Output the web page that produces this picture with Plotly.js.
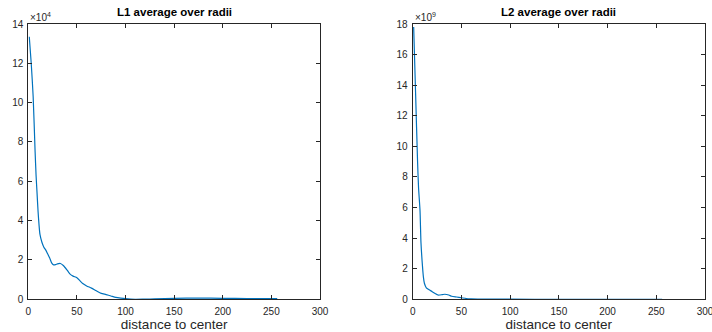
<!DOCTYPE html>
<html>
<head>
<meta charset="utf-8">
<script src="https://cdn.plot.ly/plotly-3.0.1.min.js"></script>
<style>
  html, body { margin: 0; padding: 0; background: #fff; }
  #chart { width: 712px; height: 332px; }
</style>
</head>
<body>
<div id="chart"></div>
<script>
// Radial averages of the error maps: distance from center vs. mean value
const l1Dist = [1, 3, 5, 7, 8, 9, 10, 11, 12, 14, 16, 18, 20, 22, 24, 26, 28, 30, 33, 36, 40, 43, 46, 50, 53, 56, 60, 65, 70, 75, 80, 85, 90, 95, 100, 110, 120, 130, 150, 175, 200, 225, 256];
const l1Value = [13.35, 12.0, 10.3, 7.5, 6.3, 5.4, 4.5, 3.8, 3.3, 2.9, 2.65, 2.5, 2.3, 2.1, 1.85, 1.75, 1.76, 1.8, 1.82, 1.72, 1.48, 1.28, 1.18, 1.1, 0.95, 0.8, 0.68, 0.57, 0.43, 0.3, 0.24, 0.17, 0.1, 0.06, 0.03, 0.0, 0.01, 0.02, 0.05, 0.06, 0.05, 0.04, 0.03];

const l2Dist = [1, 3, 5, 6, 7.5, 8.5, 10, 11, 12, 14, 17, 20, 23, 26, 30, 33, 37, 40, 45, 50, 55, 60, 70, 100, 150, 200, 256];
const l2Value = [17.8, 13.4, 9.0, 7.3, 5.8, 3.7, 2.2, 1.45, 1.05, 0.75, 0.62, 0.5, 0.38, 0.28, 0.3, 0.33, 0.28, 0.2, 0.15, 0.1, 0.05, 0.03, 0.015, 0.005, 0.003, 0.002, 0.002];

const xTicks = [0, 50, 100, 150, 200, 250, 300];
const l1Ticks = [0, 2, 4, 6, 8, 10, 12, 14];
const l2Ticks = [0, 2, 4, 6, 8, 10, 12, 14, 16, 18];

const W = 712, H = 332;
const ink = '#262626';
const lineColor = '#0072BD';
const font = { family: 'Liberation Sans, Arial, Helvetica, sans-serif', size: 10, color: ink };

const yBottom = 1 - 299.3 / H, yTop = 1 - 24 / H;
const leftDom = [28.3 / W, 320 / W];
const rightDom = [412.7 / W, 705 / W];

function xAxis(dom, anchor) {
  return {
    domain: dom, anchor: anchor, range: [0, 300], tickvals: xTicks,
    ticks: 'inside', ticklen: 4, tickwidth: 1, tickcolor: ink,
    showline: true, linecolor: ink, linewidth: 1, mirror: 'ticks',
    showgrid: false, zeroline: false, tickfont: font, ticklabeloverflow: 'allow',
    ticklabelstandoff: 3,
    title: { text: 'distance to center', font: { ...font, size: 13.5 }, standoff: 5 }
  };
}
function yAxis(range, ticks, anchor) {
  return {
    domain: [yBottom, yTop], anchor: anchor, range: range, tickvals: ticks,
    ticks: 'inside', ticklen: 4, tickwidth: 1, tickcolor: ink,
    showline: true, linecolor: ink, linewidth: 1, mirror: 'ticks',
    showgrid: false, zeroline: false, tickfont: font, ticklabeloverflow: 'allow',
    ticklabelstandoff: 2
  };
}

const traces = [
  { x: l1Dist, y: l1Value, xaxis: 'x', yaxis: 'y', type: 'scatter', mode: 'lines',
    line: { color: lineColor, width: 1.2, shape: 'spline', smoothing: 0.6 }, hoverinfo: 'skip' },
  { x: l2Dist, y: l2Value, xaxis: 'x2', yaxis: 'y2', type: 'scatter', mode: 'lines',
    line: { color: lineColor, width: 1.2, shape: 'spline', smoothing: 0.6 }, hoverinfo: 'skip' }
];

const layout = {
  width: W, height: H,
  margin: { l: 0, r: 0, t: 0, b: 0 },
  paper_bgcolor: '#fff', plot_bgcolor: '#fff',
  showlegend: false,
  xaxis: xAxis(leftDom, 'y'),
  yaxis: yAxis([0, 14], l1Ticks, 'x'),
  xaxis2: xAxis(rightDom, 'y2'),
  yaxis2: yAxis([0, 18], l2Ticks, 'x2'),
  annotations: [
    { text: '<b>L1 average over radii</b>', xref: 'paper', yref: 'paper',
      x: (leftDom[0] + leftDom[1]) / 2, y: yTop, xanchor: 'center', yanchor: 'bottom', yshift: 4,
      showarrow: false, font: { ...font, size: 11.5, color: '#000' } },
    { text: '<b>L2 average over radii</b>', xref: 'paper', yref: 'paper',
      x: (rightDom[0] + rightDom[1]) / 2, y: yTop, xanchor: 'center', yanchor: 'bottom', yshift: 4,
      showarrow: false, font: { ...font, size: 11.5, color: '#000' } },
    { text: '×10<sup>4</sup>', xref: 'paper', yref: 'paper',
      x: leftDom[0], y: yTop, xanchor: 'left', yanchor: 'bottom', yshift: -1,
      showarrow: false, font: font },
    { text: '×10<sup>9</sup>', xref: 'paper', yref: 'paper',
      x: rightDom[0], y: yTop, xanchor: 'left', yanchor: 'bottom', yshift: -1,
      showarrow: false, font: font }
  ]
};

Plotly.newPlot('chart', traces, layout, { staticPlot: true, displayModeBar: false });
</script>
</body>
</html>
